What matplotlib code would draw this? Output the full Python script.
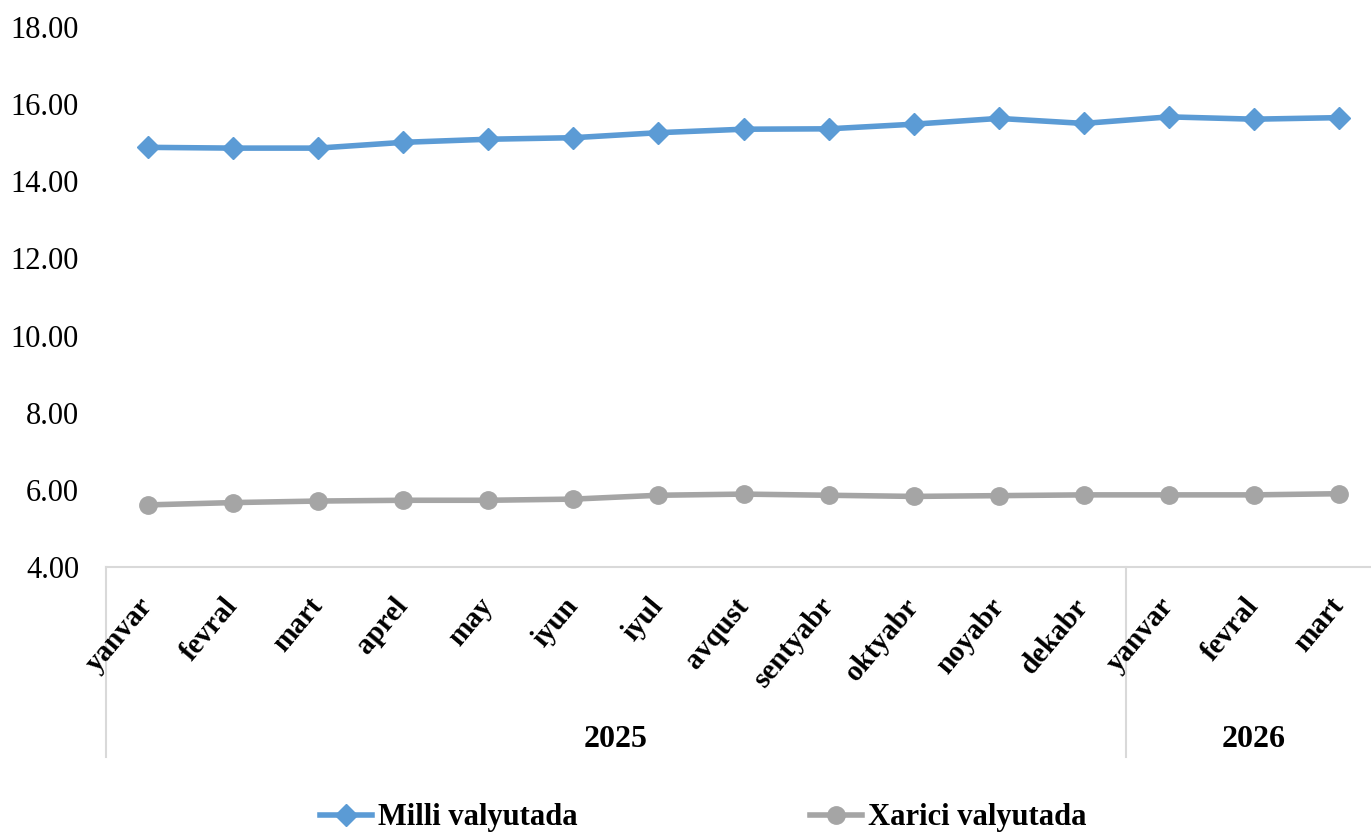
import numpy as np
import matplotlib
matplotlib.use("Agg")
import matplotlib.pyplot as plt
import matplotlib.transforms as mtransforms

plt.rcParams['font.family'] = ['Liberation Serif', 'DejaVu Serif']

# Data
months = ["yanvar", "fevral", "mart", "aprel", "may", "iyun", "iyul", "avqust",
          "sentyabr", "oktyabr", "noyabr", "dekabr", "yanvar", "fevral", "mart"]
years = ["2025", "2026"]
year_counts = [12, 3]
milli = [14.88, 14.86, 14.86, 15.01, 15.09, 15.13, 15.26, 15.35,
         15.36, 15.48, 15.63, 15.50, 15.67, 15.61, 15.65]
xarici = [5.61, 5.67, 5.71, 5.73, 5.73, 5.76, 5.86, 5.89,
          5.86, 5.83, 5.85, 5.87, 5.87, 5.87, 5.90]

blue = "#5b9bd5"
gray = "#a5a5a5"
axis_gray = "#d9d9d9"

W, H = 1371, 834
fig = plt.figure(figsize=(W / 100, H / 100), dpi=100)
# plot area runs a bit past the right edge, as in the original
ax = fig.add_axes([105.5 / W, 1 - 567 / H, 1276 / W, 540 / H])

x = np.arange(len(months))
ax.plot(x, milli, color=blue, lw=4, marker='D', ms=11.5, label="Milli valyutada")
ax.plot(x, xarici, color=gray, lw=4, marker='o', ms=12.5, label="Xarici valyutada")

ax.set_xlim(-0.5, len(months) - 0.5)
ax.set_ylim(4, 18)
ax.set_yticks(np.arange(4, 18.1, 2))
ax.set_yticklabels(["%.2f" % v for v in np.arange(4, 18.1, 2)])
ax.tick_params(axis='y', length=0, pad=19, labelsize=22)
ax.set_xticks([])

for s in ["top", "right", "left"]:
    ax.spines[s].set_visible(False)
ax.spines["bottom"].set_color(axis_gray)
ax.spines["bottom"].set_linewidth(1.5)

trans = mtransforms.blended_transform_factory(ax.transData, ax.transAxes)

# month labels, rotated
for i, m in enumerate(months):
    ax.text(i + 0.0, -0.064, m, transform=trans, rotation=50, rotation_mode='anchor',
            ha='right', va='center', fontsize=21, fontweight='bold')

# year groups with separator lines
start = 0
for yr, n in zip(years, year_counts):
    ax.plot([start - 0.5, start - 0.5], [0, -0.352], transform=trans, color=axis_gray,
            lw=1.5, clip_on=False)
    ax.text(start + (n - 1) / 2, -0.32, yr, transform=trans, ha='center', va='center',
            fontsize=23, fontweight='bold')
    start += n

fig.legend(loc='center', bbox_to_anchor=(703 / W, 1 - 818 / H), ncol=2, frameon=False,
           prop={'weight': 'bold', 'size': 22}, handlelength=1.7, handletextpad=0.2,
           columnspacing=7.6)

fig.savefig("out.png", dpi=100)
